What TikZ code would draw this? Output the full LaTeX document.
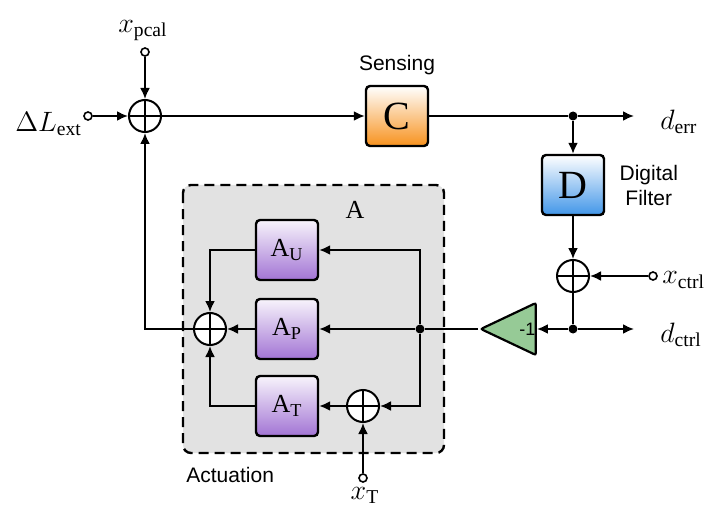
\documentclass[tikz,border=0pt]{standalone}
\usepackage{fix-cm}
\usepackage{fontspec}
\setmainfont{Liberation Serif}
\newfontfamily\labelfont{Liberation Sans}
\definecolor{sensorange}{RGB}{247, 146, 30}
\definecolor{filterblue}{RGB}{66, 150, 232}
\definecolor{actpurple}{RGB}{162, 116, 212}
\definecolor{gaingreen}{RGB}{150, 202, 150}
\definecolor{actgray}{RGB}{226, 226, 226}
\usetikzlibrary{arrows.meta, positioning, shapes.geometric, calc}
\tikzset{
	block/.style={rectangle, rounded corners=2pt, draw=black, line width=1.2pt, minimum width=31pt, minimum height=30pt, inner sep=0pt, font=\fontsize{20}{22}\selectfont},
	sensblock/.style={block, top color=white, bottom color=sensorange},
	filtblock/.style={block, top color=white, bottom color=filterblue},
	actblock/.style={block, top color=actpurple!8, bottom color=actpurple, font=\fontsize{13}{15}\selectfont},
	gain/.style={isosceles triangle, isosceles triangle stretches, shape border rotate=180, minimum width=26pt, minimum height=26pt, inner sep=0pt, draw=black, line width=1.1pt, fill=gaingreen, rounded corners=1pt, font=\labelfont\fontsize{9}{10}\selectfont},
	sumj/.style={circle, draw=black, fill=white, line width=1pt, minimum size=16pt, inner sep=0pt, path picture={\draw[line width=1pt] (path picture bounding box.north) -- (path picture bounding box.south) (path picture bounding box.west) -- (path picture bounding box.east);}},
	term/.style={circle, draw=black, fill=white, line width=0.8pt, minimum size=4pt, inner sep=0pt},
	junc/.style={circle, fill=black, minimum size=4.5pt, inner sep=0pt},
	tag/.style={font=\labelfont\fontsize{10.5}{12.5}\selectfont, align=center, inner sep=0pt},
	sig/.style={font=\fontsize{14}{16}\selectfont, inner sep=0pt},
	arrow/.style={-{Latex[length=5.5pt, width=5pt]}, line width=1pt},
	wire/.style={line width=1pt},
}

\begin{document}
\begin{tikzpicture}[x=0.5pt, y=-0.5pt]
	\useasboundingbox (0,0) rectangle (716,518);
	% actuation box
	\draw[fill=actgray, draw=black, line width=1.2pt, dash pattern=on 5pt off 3pt, rounded corners=4pt] (183,185) rectangle (444,453);
	\node[sig, font=\fontsize{13}{15}\selectfont] (alabel) at (355,210) {A};
	\node[tag, anchor=north west] (actlabel) at (186,467) {Actuation};

	% main loop
	\node[term] (ext) at (88,116) {};
	\node[term] (pcal) at (145,52) {};
	\node[sumj] (sum1) at (145,116) {};
	\node[sensblock] (C) at (397,116) {C};
	\node[tag, above=5pt of C] (senslabel) {Sensing};
	\node[junc] (errdot) at (573,116) {};
	\coordinate (errend) at (634,116);
	\node[filtblock] (D) at (573,185) {D};
	\node[tag, right=7pt of D] (filtlabel) {Digital\\Filter};
	\node[sumj] (sum2) at (573,276) {};
	\node[term] (ctrlin) at (653,276) {};
	\node[junc] (ctrldot) at (573,329) {};
	\coordinate (ctrlend) at (634,329);
	\node[gain, anchor=apex] (inv) at (478,329) {\hspace*{12pt}-1};
	\node[junc] (fork) at (420,329) {};

	% actuators
	\node[actblock] (AU) at (287,250) {A$_{\mathrm{U}}$};
	\node[actblock] (AP) at (287,329) {A$_{\mathrm{P}}$};
	\node[actblock] (AT) at (287,406) {A$_{\mathrm{T}}$};
	\node[sumj] (sum3) at (210,329) {};
	\node[sumj] (sum4) at (363,406) {};
	\node[term] (Tin) at (363,478) {};

	% signal labels
	\node[sig, anchor=south] (pcallabel) at ($(pcal.north)+(-2,-6)$) {$x_{\mathrm{pcal}}$};
	\node[sig, anchor=east] (extlabel) at ($(ext.west)+(-1,8)$) {$\Delta L_{\mathrm{ext}}$};
	\node[sig, anchor=west] (errlabel) at (660,122) {$d_{\mathrm{err}}$};
	\node[sig, anchor=west] (ctrllabel) at (662,280) {$x_{\mathrm{ctrl}}$};
	\node[sig, anchor=west] (dctrllabel) at (660,335) {$d_{\mathrm{ctrl}}$};
	\node[sig, anchor=north] (Tlabel) at ($(Tin.south)+(2,4)$) {$x_{\mathrm{T}}$};

	% connectors
	\draw[arrow] (ext) -- (sum1);
	\draw[arrow] (pcal) -- (sum1);
	\draw[arrow] (sum1) -- (C);
	\draw[wire] (C) -- (errdot);
	\draw[arrow] (errdot) -- (errend);
	\draw[arrow] (errdot) -- (D);
	\draw[arrow] (D) -- (sum2);
	\draw[arrow] (ctrlin) -- (sum2);
	\draw[wire] (sum2) -- (ctrldot);
	\draw[arrow] (ctrldot) -- (ctrlend);
	\draw[arrow] (ctrldot) -- (inv.east |- ctrldot);
	\draw[wire] (inv.apex) -- (fork);
	\draw[arrow] (fork) -- (AP);
	\draw[arrow] (fork) |- (AU);
	\draw[arrow] (fork) |- (sum4);
	\draw[arrow] (Tin) -- (sum4);
	\draw[arrow] (sum4) -- (AT);
	\draw[arrow] (AP) -- (sum3);
	\draw[arrow] (AU) -| (sum3);
	\draw[arrow] (AT) -| (sum3);
	\draw[arrow] (sum3) -| (sum1);
\end{tikzpicture}
\end{document}
